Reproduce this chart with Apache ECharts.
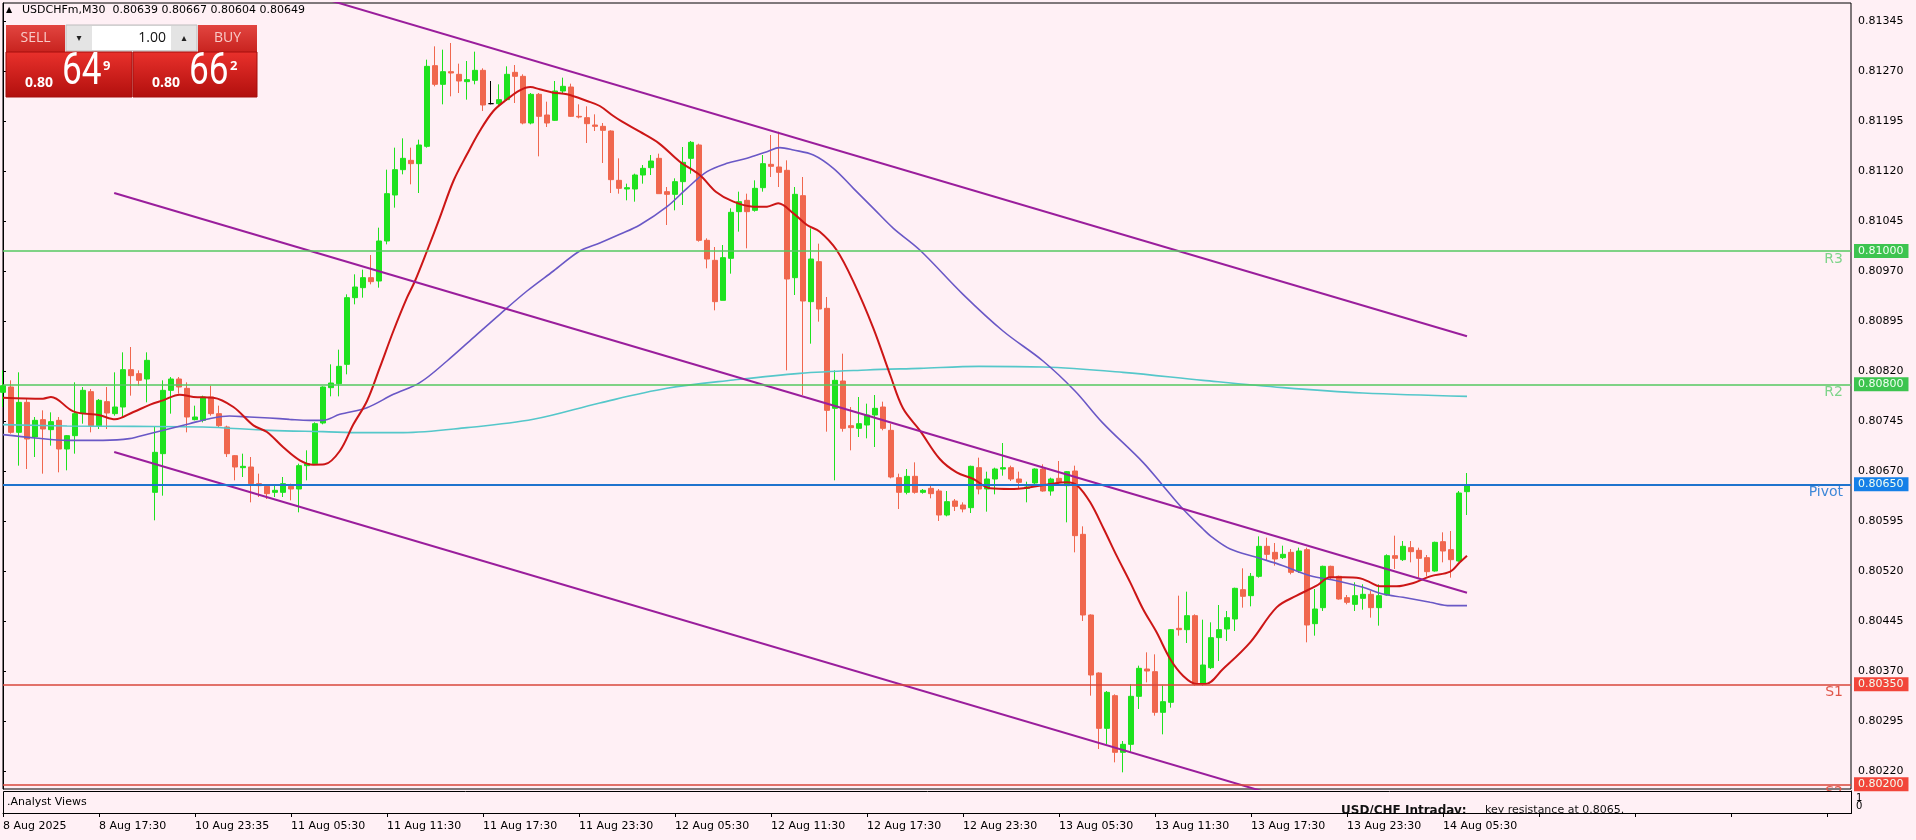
<!DOCTYPE html>
<html><head><meta charset="utf-8">
<script src="https://cdn.jsdelivr.net/npm/echarts@6/dist/echarts.min.js"></script>
<style>html,body{margin:0;padding:0;background:#FFF0F5;}#c{width:1916px;height:840px;}</style>
</head><body><div id="c"></div>
<script>
// ---------------- DATA ----------------
const symbolTitle = 'USDCHFm,M30';
const ohlcTitle = ['0.80639', '0.80667', '0.80604', '0.80649'];
const lotSize = '1.00';
const sellQuote = ['0.80', '64', '9'];
const buyQuote = ['0.80', '66', '2'];
const indicatorName = '.Analyst Views';
const noteTitle = 'USD/CHF Intraday:';
const noteText = 'key resistance at 0.8065.';

const timeLabels = ['8 Aug 2025', '8 Aug 17:30', '10 Aug 23:35', '11 Aug 05:30', '11 Aug 11:30', '11 Aug 17:30',
  '11 Aug 23:30', '12 Aug 05:30', '12 Aug 11:30', '12 Aug 17:30', '12 Aug 23:30', '13 Aug 05:30',
  '13 Aug 11:30', '13 Aug 17:30', '13 Aug 23:30', '14 Aug 05:30'];
const yTicks = [0.81345, 0.81270, 0.81195, 0.81120, 0.81045, 0.80970, 0.80895, 0.80820, 0.80745,
  0.80670, 0.80595, 0.80520, 0.80445, 0.80370, 0.80295, 0.80220];
const indicatorTickLabels = ['1', '0'];

const opens = [
0.80788,0.80796,0.80728,0.80773,0.80721,0.80747,0.80732,0.80746,0.80703,0.80723,
0.80756,0.80789,0.80738,0.80774,0.80756,0.80766,0.80822,0.80816,0.80808,0.80638,
0.80696,0.80791,0.80808,0.80794,0.80747,0.80746,0.80781,0.80756,0.80736,0.80693,
0.80675,0.80676,0.80651,0.80647,0.80638,0.80638,0.80647,0.80643,0.80678,0.80681,
0.80742,0.80795,0.80801,0.80830,0.80930,0.80945,0.80960,0.80955,0.81015,0.81084,
0.81122,0.81136,0.81131,0.81157,0.81278,0.81250,0.81269,0.81265,0.81254,0.81256,
0.81271,0.81221,0.81221,0.81227,0.81268,0.81262,0.81192,0.81235,0.81204,0.81196,
0.81240,0.81246,0.81202,0.81200,0.81189,0.81187,0.81180,0.81106,0.81093,0.81093,
0.81114,0.81125,0.81139,0.81089,0.81085,0.81104,0.81139,0.81159,0.81016,0.80986,
0.80926,0.80989,0.81059,0.81076,0.81061,0.81095,0.81130,0.81126,0.81121,0.80960,
0.81083,0.80924,0.80984,0.80914,0.80764,0.80805,0.80738,0.80734,0.80739,0.80754,
0.80766,0.80731,0.80660,0.80638,0.80662,0.80638,0.80644,0.80640,0.80604,0.80625,
0.80619,0.80615,0.80675,0.80643,0.80658,0.80673,0.80675,0.80658,0.80644,0.80652,
0.80673,0.80640,0.80659,0.80648,0.80670,0.80575,0.80454,0.80367,0.80284,0.80333,
0.80248,0.80260,0.80332,0.80373,0.80369,0.80308,0.80323,0.80434,0.80432,0.80453,
0.80350,0.80375,0.80420,0.80433,0.80448,0.80492,0.80483,0.80512,0.80557,0.80548,
0.80540,0.80548,0.80520,0.80552,0.80441,0.80465,0.80527,0.80512,0.80480,0.80470,
0.80479,0.80485,0.80465,0.80484,0.80543,0.80537,0.80555,0.80551,0.80540,0.80520,
0.80564,0.80552,0.80535,0.80639];
const highs = [
0.80821,0.80806,0.80818,0.80778,0.80751,0.80761,0.80758,0.80751,0.80724,0.80803,
0.80796,0.80793,0.80778,0.80796,0.80818,0.80848,0.80856,0.80821,0.80848,0.80736,
0.80806,0.80811,0.80811,0.80803,0.80768,0.80783,0.80798,0.80768,0.80738,0.80694,
0.80696,0.80691,0.80666,0.80648,0.80648,0.80661,0.80651,0.80681,0.80701,0.80743,
0.80797,0.80830,0.80852,0.80935,0.80965,0.80972,0.80994,0.81035,0.81122,0.81155,
0.81169,0.81155,0.81167,0.81287,0.81307,0.81302,0.81312,0.81281,0.81285,0.81299,
0.81274,0.81255,0.81250,0.81277,0.81279,0.81265,0.81237,0.81237,0.81224,0.81255,
0.81260,0.81251,0.81220,0.81217,0.81205,0.81192,0.81181,0.81139,0.81101,0.81116,
0.81129,0.81144,0.81146,0.81096,0.81109,0.81156,0.81165,0.81161,0.81019,0.81006,
0.81009,0.81064,0.81089,0.81086,0.81106,0.81144,0.81174,0.81179,0.81136,0.81096,
0.81111,0.81034,0.81011,0.80931,0.80821,0.80846,0.80766,0.80781,0.80771,0.80784,
0.80774,0.80741,0.80666,0.80673,0.80683,0.80643,0.80650,0.80643,0.80640,0.80628,
0.80623,0.80678,0.80690,0.80669,0.80675,0.80712,0.80678,0.80669,0.80654,0.80674,
0.80680,0.80660,0.80685,0.80670,0.80678,0.80587,0.80455,0.80368,0.80340,0.80335,
0.80265,0.80350,0.80378,0.80398,0.80395,0.80348,0.80433,0.80483,0.80489,0.80455,
0.80447,0.80443,0.80469,0.80460,0.80495,0.80524,0.80517,0.80572,0.80570,0.80562,
0.80558,0.80553,0.80555,0.80555,0.80493,0.80528,0.80528,0.80513,0.80484,0.80503,
0.80500,0.80490,0.80500,0.80545,0.80573,0.80565,0.80565,0.80555,0.80544,0.80564,
0.80578,0.80580,0.80640,0.80667];
const lows = [
0.80766,0.80726,0.80678,0.80673,0.80691,0.80666,0.80708,0.80668,0.80671,0.80696,
0.80741,0.80728,0.80733,0.80733,0.80753,0.80751,0.80783,0.80798,0.80773,0.80596,
0.80633,0.80756,0.80786,0.80728,0.80746,0.80743,0.80753,0.80736,0.80691,0.80656,
0.80661,0.80623,0.80631,0.80628,0.80631,0.80631,0.80626,0.80608,0.80656,0.80681,
0.80740,0.80782,0.80782,0.80815,0.80920,0.80930,0.80950,0.80945,0.81010,0.81065,
0.81115,0.81100,0.81087,0.81155,0.81247,0.81220,0.81232,0.81237,0.81227,0.81250,
0.81210,0.81220,0.81217,0.81225,0.81222,0.81190,0.81190,0.81142,0.81186,0.81195,
0.81237,0.81201,0.81199,0.81162,0.81180,0.81132,0.81087,0.81086,0.81076,0.81074,
0.81101,0.81114,0.81086,0.81039,0.81061,0.81069,0.81116,0.81014,0.80974,0.80911,
0.80926,0.80966,0.81029,0.81004,0.81059,0.81089,0.81111,0.81096,0.80821,0.80934,
0.80784,0.80861,0.80894,0.80729,0.80656,0.80729,0.80701,0.80721,0.80719,0.80706,
0.80731,0.80659,0.80613,0.80635,0.80636,0.80636,0.80629,0.80595,0.80602,0.80610,
0.80608,0.80607,0.80635,0.80609,0.80635,0.80663,0.80655,0.80643,0.80623,0.80650,
0.80639,0.80633,0.80650,0.80593,0.80548,0.80445,0.80333,0.80253,0.80260,0.80233,
0.80218,0.80248,0.80313,0.80353,0.80303,0.80275,0.80315,0.80423,0.80412,0.80348,
0.80348,0.80373,0.80385,0.80415,0.80430,0.80465,0.80467,0.80510,0.80535,0.80528,
0.80538,0.80515,0.80517,0.80413,0.80423,0.80460,0.80508,0.80477,0.80470,0.80460,
0.80462,0.80450,0.80438,0.80483,0.80523,0.80535,0.80533,0.80510,0.80512,0.80519,
0.80533,0.80510,0.80534,0.80604];
const closes = [
0.80798,0.80728,0.80773,0.80718,0.80746,0.80733,0.80744,0.80703,0.80723,0.80756,
0.80791,0.80738,0.80776,0.80757,0.80766,0.80822,0.80813,0.80806,0.80836,0.80698,
0.80791,0.80808,0.80796,0.80751,0.80751,0.80781,0.80756,0.80738,0.80696,0.80676,
0.80677,0.80651,0.80648,0.80636,0.80641,0.80651,0.80643,0.80678,0.80681,0.80741,
0.80796,0.80802,0.80827,0.80930,0.80946,0.80960,0.80954,0.81015,0.81086,0.81122,
0.81139,0.81131,0.81159,0.81277,0.81250,0.81269,0.81267,0.81255,0.81257,0.81271,
0.81219,0.81221,0.81227,0.81265,0.81262,0.81192,0.81235,0.81202,0.81192,0.81240,
0.81247,0.81202,0.81201,0.81191,0.81187,0.81181,0.81107,0.81094,0.81095,0.81114,
0.81124,0.81135,0.81086,0.81085,0.81104,0.81133,0.81163,0.81016,0.80988,0.80924,
0.80990,0.81058,0.81074,0.81059,0.81094,0.81131,0.81127,0.81118,0.80958,0.81085,
0.80925,0.80988,0.80913,0.80761,0.80806,0.80734,0.80735,0.80741,0.80754,0.80764,
0.80734,0.80661,0.80638,0.80662,0.80638,0.80641,0.80636,0.80604,0.80624,0.80617,
0.80613,0.80677,0.80643,0.80658,0.80673,0.80675,0.80658,0.80653,0.80646,0.80673,
0.80640,0.80658,0.80653,0.80669,0.80573,0.80454,0.80364,0.80284,0.80338,0.80248,
0.80260,0.80332,0.80374,0.80370,0.80308,0.80324,0.80432,0.80432,0.80453,0.80350,
0.80379,0.80420,0.80432,0.80450,0.80494,0.80482,0.80512,0.80557,0.80545,0.80538,
0.80545,0.80518,0.80550,0.80439,0.80463,0.80527,0.80510,0.80478,0.80473,0.80483,
0.80485,0.80465,0.80483,0.80543,0.80539,0.80557,0.80549,0.80539,0.80519,0.80563,
0.80550,0.80537,0.80637,0.80649];
const blackDojiBars = [61];

// moving averages: [bar index, price]
const fastMA = [[0,0.80780],[5,0.807785],[6,0.80781],[8.8,0.807595],[12.1,0.807535],[14,0.807475],[16.3,0.807585],
 [18.4,0.807695],[20,0.80776],[22.1,0.807845],[23.8,0.80781],[26.3,0.80780],[28.8,0.80766],[31.3,0.807385],[33,0.807285],
 [35,0.80706],[37.1,0.80686],[38.8,0.806795],[40.2,0.80680],[42.1,0.80700],[43.8,0.80740],[45.5,0.80775],[47.1,0.80825],
 [48.8,0.80880],[50.5,0.80930],[51.5,0.80955],[53,0.81000],[54.6,0.81050],[56.3,0.81105],[58,0.81145],[59.6,0.81180],
 [61.3,0.81210],[63,0.812275],[64.6,0.81241],[65.9,0.81246],[67.1,0.812425],[68.8,0.812375],[70.5,0.81235],[73,0.81225],
 [74.6,0.812175],[76.3,0.812025],[77.4,0.81194],[79.6,0.81179],[82,0.811615],[84.6,0.81134],[87.1,0.81114],[89.1,0.81089],
 [91.3,0.81074],[93.8,0.810665],[95.5,0.810665],[96.9,0.810715],[98.8,0.810565],[100.5,0.81039],[102.1,0.81029],
 [104.2,0.810015],[106.3,0.80954],[108.8,0.80884],[110.9,0.80814],[112.5,0.80764],[114.6,0.80731],[117.1,0.80688],
 [119.2,0.80668],[121.3,0.80658],[123.4,0.80644],[125.9,0.80643],[128.4,0.806455],[130.9,0.806505],[133,0.80653],
 [134.3,0.80648],[135.9,0.80623],[137.6,0.80583],[139.2,0.80543],[140.9,0.80503],[142.5,0.80463],[144.2,0.80428],
 [145.9,0.80388],[147.5,0.80363],[149.2,0.803505],[150.3,0.803505],[152.5,0.80373],[155.9,0.80413],[159.2,0.804655],
 [161.7,0.80483],[164.2,0.80498],[165.9,0.805105],[167.6,0.805105],[169.6,0.80509],[170.9,0.80503],[172.1,0.80497],
 [174.2,0.80497],[176.3,0.80502],[178.4,0.80512],[180.9,0.80519],[182.1,0.80533],[183,0.80543]];
const midMA = [[0,0.807245],[4,0.807195],[8,0.80716],[12.5,0.80716],[15.8,0.807185],[18.3,0.80726],[20.8,0.807335],
 [23.3,0.80741],[25.8,0.807485],[28.3,0.807525],[30.8,0.80751],[33.3,0.807495],[35.8,0.807475],[38.3,0.80746],[40,0.80746],
 [42.1,0.80755],[45.5,0.80765],[48.8,0.80785],[52.1,0.808025],[55.5,0.80835],[58.8,0.80870],[62.1,0.80905],[65.5,0.80940],
 [68.8,0.80970],[72.1,0.81000],[74.6,0.81012],[77.1,0.81025],[79.6,0.81039],[83,0.810665],[85.5,0.81094],[88,0.81119],
 [90.5,0.811315],[93,0.81139],[95.5,0.81149],[97.1,0.81155],[98.8,0.811515],[101.3,0.81144],[103.8,0.81124],[106.3,0.81094],
 [108.8,0.81064],[111.3,0.81034],[114.6,0.810015],[120,0.80935],[125,0.80880],[130,0.80835],[134,0.80790],[137.4,0.80743],
 [142.5,0.80683],[145,0.80648],[147.5,0.80613],[150,0.80583],[151,0.80572],[153.4,0.80553],[156.7,0.805405],[160,0.80528],
 [163.4,0.80513],[166.7,0.805055],[170,0.804955],[172.5,0.804855],[175,0.804805],[178.4,0.80473],[180.9,0.80468],[183,0.80468]];
const slowMA = [[0,0.807395],[8,0.807375],[16.3,0.80737],[25,0.80736],[33.3,0.80731],[40,0.80729],[45,0.807275],
 [50,0.807275],[58,0.80735],[66.3,0.807475],[74.6,0.80772],[83,0.80794],[91.3,0.808065],[99.6,0.808165],[108,0.808215],
 [114.6,0.80824],[122,0.80827],[130,0.80826],[140,0.80818],[150,0.80806],[160,0.80795],[170,0.80787],[183,0.80782]];

// trend lines: [bar index, price]
const trendUpper = [[40, 0.81379], [183, 0.80872]];
const trendMiddle = [[13.9, 0.81087], [183, 0.804875]];
const trendLower = [[13.9, 0.806985], [183, 0.80099]];

// pivot levels
const levelNames = ['R3', 'R2', 'Pivot', 'S1', 'S2'];
const levelValues = [0.81000, 0.80800, 0.80650, 0.80350, 0.80200];

// ---------------- STYLE ----------------
const BG = '#FFF0F5';
const FONT = '"DejaVu Sans", sans-serif';
const BULL = '#1EE21E', BEAR = '#F0674E';
const levelLine = ['#55C85F', '#55C85F', '#1F74CE', '#D9473A', '#D9473A'];
const levelWidth = [1.5, 1.5, 2, 1.5, 1.5];
const levelText = ['#7ED48A', '#7ED48A', '#3F88D8', '#E0574A', '#E0574A'];
const levelTag = ['#3DC44F', '#3DC44F', '#1580E8', '#F2463A', '#F2463A'];
const NCAT = 232;

const categories = Array.from({length: NCAT}, (_, i) => (i % 12 === 0 && i / 12 < timeLabels.length) ? timeLabels[i / 12] : '');

const candleData = opens.map((o, i) => {
  const v = [o, closes[i], lows[i], highs[i]];
  if (blackDojiBars.includes(i)) return {value: v, itemStyle: {color: '#000', color0: '#000', borderColor: '#000', borderColor0: '#000'}};
  return v;
});

const markData = [];
levelValues.forEach((v, i) => {
  markData.push({yAxis: v, lineStyle: {color: levelLine[i], width: levelWidth[i], type: 'solid'},
    label: {show: true, position: 'end', formatter: v.toFixed(5), backgroundColor: levelTag[i], color: '#F2FFF2',
      padding: [2, 5, 1, 4], fontFamily: FONT, fontSize: 11, distance: 3}});
  markData.push({yAxis: v, lineStyle: {color: 'rgba(0,0,0,0)', width: 1, type: 'solid'},
    label: {show: true, position: 'insideEndBottom', formatter: levelNames[i], color: levelText[i],
      fontFamily: FONT, fontSize: 14, distance: [8, 1], opacity: 1}});
});

function grad(a, b) { return {type: 'linear', x: 0, y: 0, x2: 0, y2: 1, colorStops: [{offset: 0, color: a}, {offset: 1, color: b}]}; }
function quoteEls(x0, q) {
  return [
    {type: 'rect', shape: {x: x0, y: 52, width: x0 === 6 ? 126 : 124, height: 45}, style: {fill: grad('#E9312C', '#B10F0D'), stroke: '#A50E0C', lineWidth: 1}, z: 60},
    {type: 'text', x: x0 + 19, y: 83, style: {text: q[0], font: 'bold 14px "Open Sans", sans-serif', fill: '#FFFFFF', verticalAlign: 'middle'}, z: 61},
    {type: 'text', x: x0 + 56, y: 73, scaleX: 0.8, style: {text: q[1], font: '44px Roboto, sans-serif', fill: '#FFFFFF', verticalAlign: 'middle'}, z: 61},
    {type: 'text', x: x0 + 97, y: 66, style: {text: q[2], font: 'bold 13px "Open Sans", sans-serif', fill: '#FFFFFF', verticalAlign: 'middle'}, z: 61}
  ];
}

const graphics = [
  {type: 'text', x: 6, y: 10, style: {text: '▲', font: '8px ' + FONT, fill: '#000', verticalAlign: 'middle'}, z: 60},
  {type: 'text', x: 22, y: 10, style: {text: symbolTitle + '  ' + ohlcTitle.join(' '), font: '11px ' + FONT, fill: '#000', verticalAlign: 'middle'}, z: 60},
  // one-click trading panel
  {type: 'rect', shape: {x: 6, y: 25, width: 59, height: 27}, style: {fill: grad('#E24540', '#C8231F')}, z: 60},
  {type: 'text', x: 35.5, y: 38.5, style: {text: 'SELL', font: '14px "Open Sans", sans-serif', fill: '#F8CBC8', align: 'center', verticalAlign: 'middle'}, z: 61},
  {type: 'rect', shape: {x: 66, y: 25, width: 131, height: 26}, style: {fill: '#E4E4E4', stroke: '#BDBDBD', lineWidth: 1}, z: 60},
  {type: 'rect', shape: {x: 92, y: 26, width: 79, height: 24}, style: {fill: '#FFFFFF'}, z: 61},
  {type: 'text', x: 79, y: 38, style: {text: '▾', font: '10px ' + FONT, fill: '#222', align: 'center', verticalAlign: 'middle'}, z: 61},
  {type: 'text', x: 184, y: 38, style: {text: '▴', font: '10px ' + FONT, fill: '#222', align: 'center', verticalAlign: 'middle'}, z: 61},
  {type: 'text', x: 166, y: 38.5, style: {text: lotSize, font: '14px "Open Sans", sans-serif', fill: '#111', align: 'right', verticalAlign: 'middle'}, z: 62},
  {type: 'rect', shape: {x: 198, y: 25, width: 59, height: 27}, style: {fill: grad('#E24540', '#C8231F')}, z: 60},
  {type: 'text', x: 227.5, y: 38.5, style: {text: 'BUY', font: '14px "Open Sans", sans-serif', fill: '#F8CBC8', align: 'center', verticalAlign: 'middle'}, z: 61},
  ...quoteEls(6, sellQuote),
  ...quoteEls(133, buyQuote),
  // indicator sub-window
  {type: 'rect', shape: {x: 3.5, y: 791.5, width: 1848, height: 22}, style: {fill: BG, stroke: '#000', lineWidth: 1}, z: 100},
  {type: 'text', x: 7, y: 802, style: {text: indicatorName, font: '11px ' + FONT, fill: '#000', verticalAlign: 'middle'}, z: 101},
  {type: 'text', x: 1341, y: 805, style: {text: noteTitle, font: 'bold 12px ' + FONT, fill: '#111', verticalAlign: 'top'}, z: 101},
  {type: 'text', x: 1485, y: 805, style: {text: noteText, font: '11px ' + FONT, fill: '#111', verticalAlign: 'top'}, z: 101},
  {type: 'rect', shape: {x: 1330, y: 814, width: 330, height: 8}, style: {fill: BG}, z: 102}
];

const lineSeries = (name, data, color, width, extra) => Object.assign({
  name, type: 'line', xAxisIndex: 1, yAxisIndex: 0, data, smooth: 0.35, showSymbol: false, symbol: 'none',
  lineStyle: {color, width}, silent: true, clip: true, z: 3
}, extra || {});

const option = {
  backgroundColor: BG,
  animation: false,
  graphic: {elements: graphics},
  grid: [
    {left: 3, top: 3, width: 1848, height: 786, show: true, borderColor: '#000', borderWidth: 1, backgroundColor: 'transparent'},
    {left: 3, top: 791, width: 1848, height: 22, show: false}
  ],
  xAxis: [
    {type: 'category', gridIndex: 0, data: categories, boundaryGap: false, axisLine: {show: false}, axisTick: {show: false}, axisLabel: {show: false}, splitLine: {show: false}},
    {type: 'value', gridIndex: 0, min: 0, max: NCAT - 1, show: false},
    {type: 'category', gridIndex: 1, data: categories, boundaryGap: false, z: 110,
      axisLine: {show: true, lineStyle: {color: '#000', width: 1}},
      axisTick: {show: true, interval: 11, length: 4, lineStyle: {color: '#000'}},
      axisLabel: {show: true, interval: 11, align: 'left', margin: 8, fontFamily: FONT, fontSize: 11, color: '#000'},
      splitLine: {show: false}}
  ],
  yAxis: [
    {type: 'value', gridIndex: 0, position: 'right', min: 0.80193, max: 0.81372, scale: true,
      axisLine: {show: true, lineStyle: {color: '#000'}},
      axisTick: {show: true, length: 3, customValues: yTicks, lineStyle: {color: '#000'}},
      axisLabel: {show: true, customValues: yTicks, formatter: v => v.toFixed(5), margin: 7, fontFamily: FONT, fontSize: 11, color: '#000'},
      splitLine: {show: false}},
    {type: 'value', gridIndex: 1, position: 'right', min: 0, max: 1, z: 110,
      axisLine: {show: true, lineStyle: {color: '#000'}},
      axisTick: {show: false},
      axisLabel: {show: true, customValues: [0.5], formatter: () => indicatorTickLabels.join('\n'), margin: 5,
        fontFamily: FONT, fontSize: 10, color: '#000', lineHeight: 8},
      splitLine: {show: false}}
  ],
  series: [
    {type: 'candlestick', name: symbolTitle, xAxisIndex: 0, yAxisIndex: 0, data: candleData, barWidth: 5, clip: true,
      itemStyle: {color: BULL, color0: BEAR, borderColor: BULL, borderColor0: BEAR, borderWidth: 1},
      silent: true, z: 2},
    lineSeries('MA slow', slowMA, '#55C7CA', 1.6, {
      markLine: {silent: true, symbol: ['none', 'none'], animation: false, data: markData, precision: 5}}),
    lineSeries('MA mid', midMA, '#6A58C6', 1.6),
    lineSeries('MA fast', fastMA, '#CC1616', 2),
    lineSeries('Trend upper', trendUpper, '#9A1E9C', 2),
    lineSeries('Trend middle', trendMiddle, '#9A1E9C', 2),
    lineSeries('Trend lower', trendLower, '#9A1E9C', 2)
  ]
};
const chart = echarts.init(document.getElementById('c'), null, {width: 1916, height: 840});
chart.setOption(option);
</script></body></html>
